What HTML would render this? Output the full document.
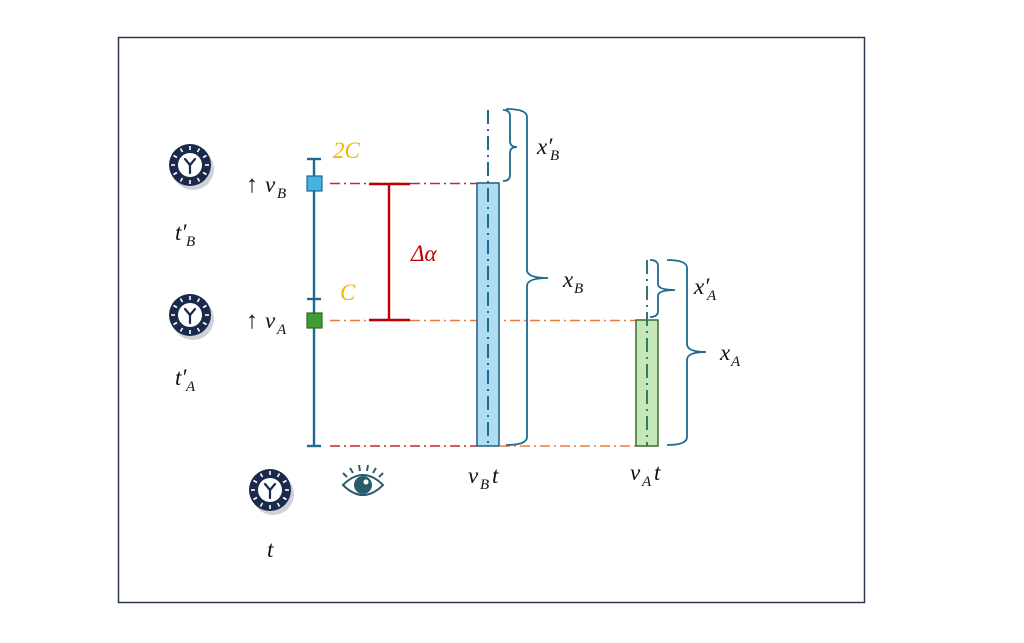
<!DOCTYPE html>
<html><head><meta charset="utf-8"><style>
html,body{margin:0;padding:0;background:#fff;}
svg{display:block;}
text{font-family:"Liberation Serif",serif;font-style:italic;font-size:23px;fill:#111;}
.s{font-size:15px;}
</style></head><body>
<svg width="1024" height="643" viewBox="0 0 1024 643" xmlns="http://www.w3.org/2000/svg">
<defs>
<g id="clk">
<circle cx="3" cy="4" r="21" fill="#9aa3b5" opacity="0.5"/>
<circle cx="0" cy="0" r="21" fill="#1b2a4a"/>
<circle cx="0" cy="0" r="12" fill="#fff"/>
<g stroke="#fff" stroke-width="1.6">
<line x1="0" y1="-19" x2="0" y2="-15"/><line x1="0" y1="19" x2="0" y2="15"/>
<line x1="-19" y1="0" x2="-15" y2="0"/><line x1="19" y1="0" x2="15" y2="0"/>
<line x1="9.5" y1="-16.5" x2="7.5" y2="-13"/><line x1="16.5" y1="-9.5" x2="13" y2="-7.5"/>
<line x1="-9.5" y1="-16.5" x2="-7.5" y2="-13"/><line x1="-16.5" y1="-9.5" x2="-13" y2="-7.5"/>
<line x1="9.5" y1="16.5" x2="7.5" y2="13"/><line x1="16.5" y1="9.5" x2="13" y2="7.5"/>
<line x1="-9.5" y1="16.5" x2="-7.5" y2="13"/><line x1="-16.5" y1="9.5" x2="-13" y2="7.5"/>
</g>
<g stroke="#1b2a4a" stroke-width="2.2" fill="none" stroke-linecap="round">
<line x1="0" y1="0" x2="0" y2="8"/><line x1="0" y1="0" x2="-5" y2="-6"/><line x1="0" y1="0" x2="5" y2="-6"/>
</g>
</g>
</defs>
<rect x="118.5" y="37.5" width="746" height="565" fill="#fff" stroke="#2b3a4e" stroke-width="1.5"/>

<use href="#clk" x="190" y="165"/>
<use href="#clk" x="190" y="315"/>
<use href="#clk" x="270" y="490"/>

<!-- eye -->
<g transform="translate(363,485)" fill="none" stroke="#2a5d6b" stroke-width="2">
<path d="M-20,0 Q0,-20 20,0 Q0,20 -20,0 Z"/>
<circle cx="0" cy="0" r="8" fill="#2a5d6b"/>
<circle cx="3" cy="-3" r="2.5" fill="#fff" stroke="none"/>
<path d="M-16,-8 l-4,-4 M-10,-12 l-3,-5 M-3,-14 l-1,-6 M4,-14 l1,-6 M10,-12 l3,-5 M16,-8 l4,-4"/>
</g>

<!-- main vertical -->
<g stroke="#1e6a8e" stroke-width="2.4">
<line x1="314" y1="159" x2="314" y2="446"/>
<line x1="307" y1="159" x2="321" y2="159"/>
<line x1="307" y1="299" x2="321" y2="299"/>
<line x1="307" y1="446" x2="321" y2="446"/>
</g>
<rect x="307" y="176" width="15" height="15" fill="#45b2e0" stroke="#1e6a8e" stroke-width="1.2"/>
<rect x="307" y="313" width="15" height="15" fill="#3f9e32" stroke="#2d6a22" stroke-width="1.2"/>

<!-- dash-dot lines -->
<g stroke-width="1.6" stroke-dasharray="10,4,2,4" fill="none">
<line x1="330" y1="183.5" x2="477" y2="183.5" stroke="#c62828"/>
<line x1="330" y1="320.5" x2="636" y2="320.5" stroke="#e87a3e"/>
<line x1="330" y1="446" x2="477" y2="446" stroke="#c62828"/>
<line x1="500" y1="446" x2="636" y2="446" stroke="#e87a3e"/>
</g>

<!-- delta alpha bar -->
<g stroke="#c00000" stroke-width="2.4">
<line x1="369" y1="184" x2="410" y2="184"/>
<line x1="369" y1="320" x2="410" y2="320"/>
<line x1="389" y1="184" x2="389" y2="320"/>
</g>

<!-- bars -->
<rect x="477" y="183" width="22" height="263" fill="#aedcf3" stroke="#1e5f80" stroke-width="1.5"/>
<rect x="636" y="320" width="22" height="126" fill="#c6e8b8" stroke="#3a6a2a" stroke-width="1.5"/>
<line x1="488" y1="110" x2="488" y2="446" stroke="#1e6a8e" stroke-width="2" stroke-dasharray="14,5,2,5"/>
<line x1="647" y1="260" x2="647" y2="446" stroke="#2f7a6a" stroke-width="2" stroke-dasharray="14,5,2,5"/>

<!-- braces -->
<g stroke="#1e6a8e" stroke-width="1.8" fill="none">
<path d="M503,110 Q510,110 510,116 L510,141 Q510,147 517,147 Q510,147 510,153 L510,175 Q510,181 503,181"/>
<path d="M506,109 Q527,109 527,117 L527,270 Q527,278 548,278 Q527,278 527,286 L527,437 Q527,445 506,445"/>
<path d="M650,260 Q658,260 658,266 L658,284 Q658,290 675,290 Q658,290 658,296 L658,311 Q658,317 650,317"/>
<path d="M667,260 Q687,260 687,268 L687,344 Q687,352 706,352 Q687,352 687,360 L687,437 Q687,445 667,445"/>
</g>

<!-- labels -->
<text x="333" y="158" style="fill:#f4b400">2C</text>
<text x="340" y="300" style="fill:#f4b400">C</text>
<text x="411" y="261" style="fill:#c00000">Δα</text>
<text x="246" y="192" style="font-style:normal;font-size:24px">↑</text><text x="265" y="192">v</text><text class="s" x="277" y="198">B</text>
<text x="246" y="328" style="font-style:normal;font-size:24px">↑</text><text x="265" y="328">v</text><text class="s" x="277" y="334">A</text>
<text x="175" y="240">t′</text><text class="s" x="186" y="246">B</text>
<text x="175" y="385">t′</text><text class="s" x="186" y="391">A</text>
<text x="267" y="557">t</text>
<text x="468" y="483">v</text><text class="s" x="480" y="489">B</text><text x="492" y="483">t</text>
<text x="630" y="480">v</text><text class="s" x="642" y="486">A</text><text x="654" y="480">t</text>
<text x="537" y="154">x′</text><text class="s" x="550" y="160">B</text>
<text x="563" y="287">x</text><text class="s" x="574" y="293">B</text>
<text x="694" y="294">x′</text><text class="s" x="707" y="300">A</text>
<text x="720" y="360">x</text><text class="s" x="731" y="366">A</text>
</svg>
</body></html>
